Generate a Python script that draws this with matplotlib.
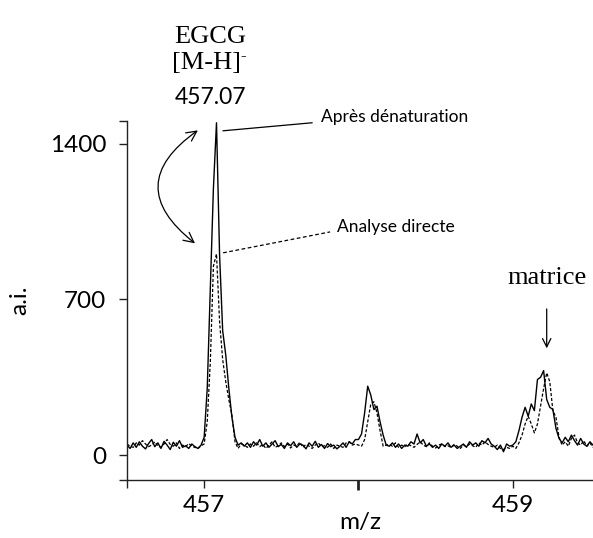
import numpy as np
import matplotlib
matplotlib.use("Agg")
import matplotlib.pyplot as plt
from matplotlib.patches import FancyArrowPatch

# m/z sampling of the spectra
mz = np.round(456.50 + 0.02 * np.arange(152), 2)

# "Après dénaturation" (solid)
apres = [45, 30, 55, 35, 60, 40, 28, 52, 70, 38, 55, 30, 62, 45, 25, 58, 40, 65, 35, 42, 30, 50, 38, 30, 45,
         80, 300, 750, 1200, 1495, 900, 560, 450, 300, 170, 80, 45, 55,
         40, 55, 35, 60, 45, 70, 40, 55, 35, 50, 65, 38, 48, 30, 55, 42, 60, 35, 50, 45, 28, 55, 40, 62, 35,
         48, 30, 52, 38, 45, 28, 40, 55, 35, 60, 50, 70,
         70, 95, 190, 310, 270, 205, 220, 150, 90, 45,
         40, 55, 35, 50, 30, 45, 40, 60, 50, 95, 55, 70, 40, 50, 35, 45, 30, 50, 40, 55,
         35, 45, 30, 40, 50, 35, 60, 45, 55, 40, 65, 55, 75, 50, 40, 25, 45, 15, 50, 40,
         45, 60, 110, 170, 215, 175, 230, 200, 340, 350, 380, 250, 215, 205, 120,
         75, 55, 80, 60, 90, 65, 45, 75, 50, 40, 60, 45]

# "Analyse directe" (dashed)
directe = [50, 40, 35, 55, 45, 65, 50, 38, 45, 60, 42, 35, 50, 70, 48, 40, 55, 30, 45, 38, 52, 40, 35, 30, 42,
           50, 150, 420, 850, 905, 600, 430, 330, 250, 180, 60, 30, 50,
           45, 35, 50, 40, 55, 38, 48, 30, 45, 60, 35, 42, 55, 38, 50, 32, 45, 40, 58, 35, 48, 40, 30, 45, 55,
           38, 42, 35, 50, 30, 45, 40, 35, 55, 60, 45, 50,
           45, 40, 70, 150, 230, 240, 190, 110, 40, 45,
           48, 40, 55, 35, 45, 38, 50, 42, 35, 48, 60, 45, 38, 55, 40, 32, 45, 50, 38, 42,
           35, 48, 40, 30, 45, 38, 50, 42, 35, 55, 45, 60, 48, 40, 35, 45, 30, 25, 35, 30,
           40, 30, 55, 90, 140, 175, 140, 100, 140, 220, 300, 370, 330, 200, 170,
           80, 45, 60, 40, 75, 90, 55, 45, 65, 40, 55, 35]

yticks = [0, 700, 1400]
xticks = [457, 458, 459]

SANS = ["Lato", "DejaVu Sans"]
SERIF = ["Liberation Serif", "DejaVu Serif"]

W, H = 593, 538
fig = plt.figure(figsize=(W / 100, H / 100), dpi=100)
ax = fig.add_axes([127 / W, 58 / H, 466 / W, 359 / H])

ax.plot(mz, apres, color="black", lw=1.0)
ax.plot(mz, directe, color="black", lw=0.9, ls=(0, (2.5, 1.5)))

ax.set_xlim(456.5, 459.52)
ax.set_ylim(-112, 1503)
for s in ["top", "right"]:
    ax.spines[s].set_visible(False)
for s in ["left", "bottom"]:
    ax.spines[s].set_linewidth(1.0)
    ax.spines[s].set_color("#222222")

ax.set_yticks([-112] + yticks + [1503], [""] + [str(v) for v in yticks] + [""])
ax.set_xticks([456.5] + xticks, ["", "457", "", "459"])
ax.tick_params(direction="out", length=6, width=1, labelsize=17.5, color="#222222")
ax.tick_params(axis="y", pad=9)
ax.tick_params(axis="x", pad=5)
for lab in ax.get_xticklabels() + ax.get_yticklabels():
    lab.set_family(SANS)
ax.xaxis.get_major_ticks()[2].tick1line.set_markeredgewidth(2)
ax.xaxis.get_major_ticks()[2].tick1line.set_markersize(7)

ax.set_xlabel("m/z", family=SANS, fontsize=17.5, labelpad=-3)
ax.set_ylabel("a.i.", family=SANS, fontsize=17.5, labelpad=14)

# annotation lines and labels
ax.plot([457.123, 457.699], [1459, 1495], color="black", lw=0.9, clip_on=False)
ax.text(457.76, 1522, "Après dénaturation", family=SANS, fontsize=12.5, va="center", ha="left")
ax.plot([457.123, 457.816], [910, 1004], color="black", lw=0.9, ls=(0, (3, 2)), clip_on=False)
ax.text(457.86, 1027, "Analyse directe", family=SANS, fontsize=12.5, va="center", ha="left")

ax.text(459.22, 795, "matrice", family=SERIF, fontsize=19, ha="center", va="center")
ax.annotate("", xy=(459.22, 468), xytext=(459.22, 670),
            arrowprops=dict(arrowstyle="->", lw=0.9, color="black", mutation_scale=15))

arc = FancyArrowPatch((456.974, 1468), (456.955, 945), arrowstyle="<->",
                      connectionstyle="arc3,rad=0.69", mutation_scale=18,
                      lw=0.9, color="black", clip_on=False)
ax.add_patch(arc)

# peak label above the axes
fig.text(210 / W, 1 - 37 / H, "EGCG", family=SERIF, fontsize=19, ha="center", va="center")
fig.text(207 / W, 1 - 63 / H, "[M-H]", family=SERIF, fontsize=19, ha="center", va="center")
fig.text(240 / W, 1 - 56 / H, "-", family=SERIF, fontsize=12, ha="left", va="center")
fig.text(210 / W, 1 - 98 / H, "457.07", family=SANS, fontsize=16.5, ha="center", va="center")

fig.savefig("out.png", dpi=100)
